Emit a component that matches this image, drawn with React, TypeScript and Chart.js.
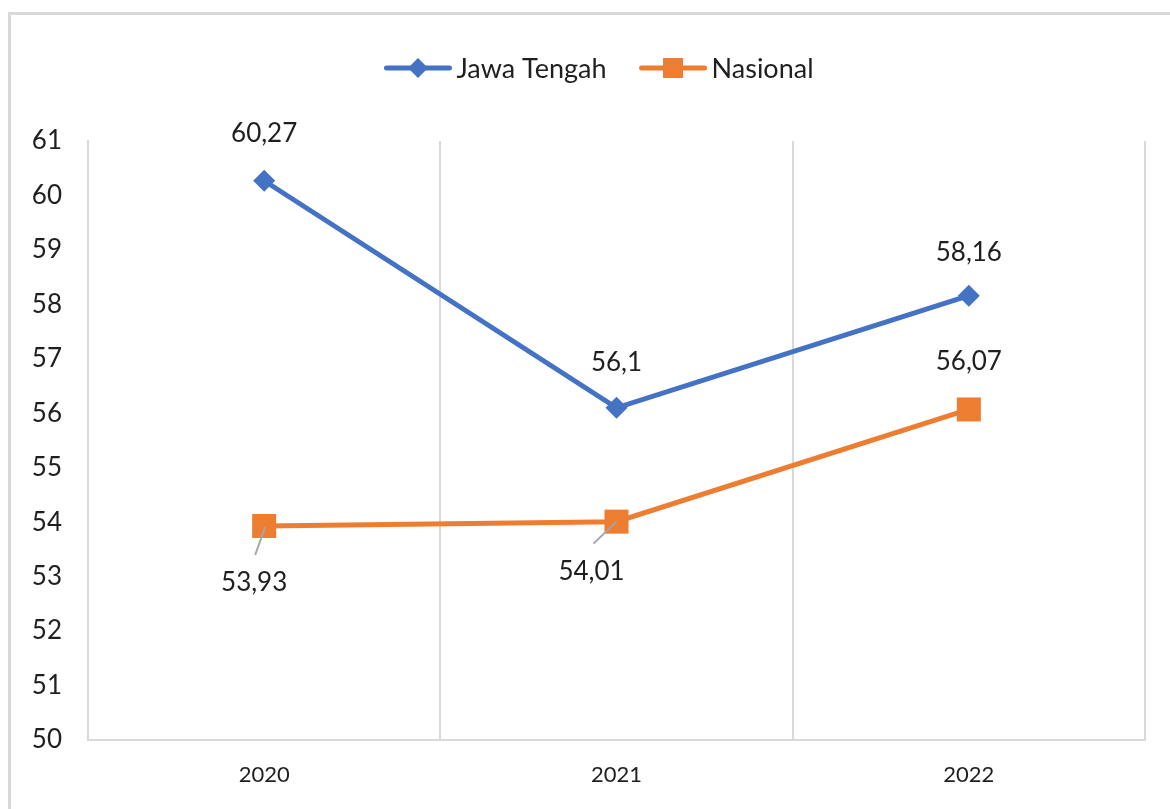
import React, { useEffect, useRef } from 'react';
import { Chart, registerables } from 'chart.js';

Chart.register(...registerables);

// ---- data ----
const categories = ['2020', '2021', '2022'];
const jawaTengah = [60.27, 56.1, 58.16];
const nasional = [53.93, 54.01, 56.07];
const seriesNames = ['Jawa Tengah', 'Nasional'];
const yMin = 50;
const yMax = 61;
const yStep = 1;

// ---- style ----
const BLUE = '#4472C4';
const ORANGE = '#ED7D31';
const GRID = '#d9d9d9';
const TEXT = '#1f1f1f';
const FONT = 'Lato';

// label offsets (dx, dy) relative to the point, and optional leader line ends
const labelPlacement = [
  [
    { dx: 0, dy: -47 },
    { dx: 0, dy: -45 },
    { dx: 0, dy: -43 },
  ],
  [
    { dx: -10, dy: 57, leader: [1, 1, -9, 29] },
    { dx: -25, dy: 50, leader: [0, 0, -23, 22] },
    { dx: 0, dy: -48 },
  ],
];

const fmt = (v: number) => String(v).replace('.', ',');

const dataLabelPlugin = {
  id: 'dataLabels',
  afterDatasetsDraw(chart: any) {
    const ctx = chart.ctx;
    ctx.save();
    chart.data.datasets.forEach((ds: any, di: number) => {
      const meta = chart.getDatasetMeta(di);
      meta.data.forEach((pt: any, i: number) => {
        const place = labelPlacement[di][i];
        if (place.leader) {
          const [x1, y1, x2, y2] = place.leader;
          ctx.strokeStyle = '#a6a6a6';
          ctx.lineWidth = 2;
          ctx.beginPath();
          ctx.moveTo(pt.x + x1, pt.y + y1);
          ctx.lineTo(pt.x + x2, pt.y + y2);
          ctx.stroke();
        }
        ctx.fillStyle = TEXT;
        ctx.font = `26px ${FONT}`;
        ctx.textAlign = 'center';
        ctx.textBaseline = 'middle';
        ctx.fillText(fmt(ds.data[i]), pt.x + place.dx, pt.y + place.dy);
      });
    });
    ctx.restore();
  },
};

const legendPlugin = {
  id: 'customLegend',
  afterDraw(chart: any) {
    const ctx = chart.ctx;
    ctx.save();
    ctx.font = `27px ${FONT}`;
    const lineLen = 67;
    const gapText = 5;
    const gapItems = 33;
    const items = chart.data.datasets.map((ds: any) => ({
      ds,
      w: lineLen + gapText + ctx.measureText(ds.label).width,
    }));
    const total = items.reduce((s: number, it: any) => s + it.w, 0) + gapItems * (items.length - 1);
    const cx = 599;
    const cy = 68;
    let x = cx - total / 2;
    items.forEach((it: any) => {
      const ds = it.ds;
      ctx.strokeStyle = ds.borderColor;
      ctx.lineWidth = 5;
      ctx.lineCap = 'round';
      ctx.beginPath();
      ctx.moveTo(x + 2, cy);
      ctx.lineTo(x + lineLen - 2, cy);
      ctx.stroke();
      ctx.fillStyle = ds.borderColor;
      const mx = x + lineLen / 2;
      if (ds.pointStyle === 'rectRot') {
        ctx.beginPath();
        ctx.moveTo(mx, cy - 10);
        ctx.lineTo(mx + 10, cy);
        ctx.lineTo(mx, cy + 10);
        ctx.lineTo(mx - 10, cy);
        ctx.closePath();
        ctx.fill();
      } else {
        ctx.fillRect(mx - 10, cy - 10, 20, 20);
      }
      ctx.fillStyle = TEXT;
      ctx.textAlign = 'left';
      ctx.textBaseline = 'middle';
      ctx.fillText(ds.label, x + lineLen + gapText, cy + 1);
      x += it.w + gapItems;
    });
    ctx.restore();
  },
};

export default function App() {
  const canvasRef = useRef<HTMLCanvasElement | null>(null);

  useEffect(() => {
    const canvas = canvasRef.current;
    if (!canvas) return;
    const chart = new Chart(canvas, {
      type: 'line',
      data: {
        labels: categories,
        datasets: [
          {
            label: seriesNames[0],
            data: jawaTengah,
            borderColor: BLUE,
            backgroundColor: BLUE,
            borderWidth: 5,
            pointStyle: 'rectRot',
            pointRadius: 11,
            pointHoverRadius: 11,
            pointBorderWidth: 0,
            tension: 0,
          },
          {
            label: seriesNames[1],
            data: nasional,
            borderColor: ORANGE,
            backgroundColor: ORANGE,
            borderWidth: 5,
            pointStyle: 'rect',
            pointRadius: 17,
            pointHoverRadius: 17,
            pointBorderWidth: 0,
            tension: 0,
          },
        ],
      },
      options: {
        responsive: false,
        maintainAspectRatio: false,
        animation: false,
        devicePixelRatio: 1,
        layout: { padding: { top: 141, right: 25, bottom: 0, left: 0 } },
        plugins: {
          legend: { display: false },
          tooltip: { enabled: false },
        },
        scales: {
          x: {
            type: 'category',
            offset: true,
            grid: {
              offset: true,
              display: true,
              color: GRID,
              lineWidth: 2,
              drawTicks: false,
            },
            border: { display: true, color: GRID, width: 2 },
            ticks: {
              color: TEXT,
              font: { family: FONT, size: 22 },
              padding: 22,
              maxRotation: 0,
            },
            afterFit: (scale: any) => {
              scale.height = 69;
            },
          },
          y: {
            min: yMin,
            max: yMax,
            grid: { display: false, drawTicks: false },
            border: { display: true, color: GRID, width: 2 },
            ticks: {
              stepSize: yStep,
              color: TEXT,
              font: { family: FONT, size: 26 },
              padding: 26,
            },
            afterFit: (scale: any) => {
              scale.width = 88;
            },
          },
        },
      },
      plugins: [dataLabelPlugin, legendPlugin],
    });
    return () => chart.destroy();
  }, []);

  return (
    <div
      style={{
        position: 'fixed',
        left: 0,
        top: 0,
        width: 1170,
        height: 809,
        overflow: 'hidden',
        background: '#fff',
      }}
    >
      <div
        style={{
          position: 'absolute',
          left: 8,
          top: 12,
          width: 1300,
          height: 1000,
          border: '3px solid #d9d9d9',
          boxSizing: 'border-box',
        }}
      />
      <canvas
        ref={canvasRef}
        width={1170}
        height={809}
        style={{ position: 'absolute', left: 0, top: 0, width: 1170, height: 809 }}
      />
    </div>
  );
}
